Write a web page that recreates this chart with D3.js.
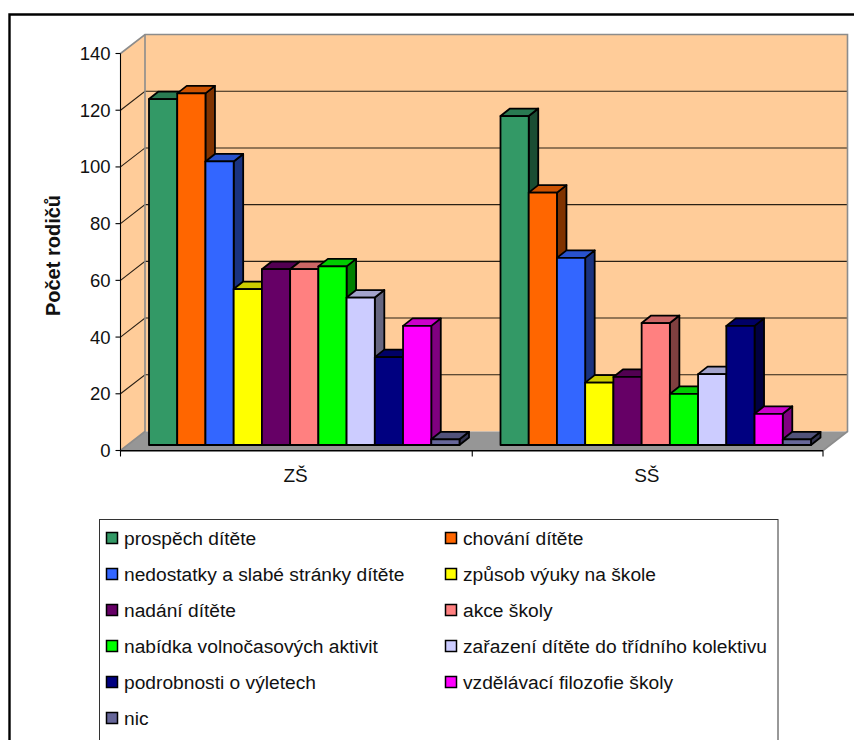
<!DOCTYPE html>
<html><head><meta charset="utf-8">
<script src="https://cdn.jsdelivr.net/npm/d3@7/dist/d3.min.js"></script>
<style>html,body{margin:0;padding:0;background:#fff}svg{display:block}text{font-family:"Liberation Sans",Arial,sans-serif;fill:#111}</style>
</head><body><svg id="c" width="854" height="740"></svg>
<script>
const categories = ["ZŠ", "SŠ"];
const seriesNames = ["prospěch dítěte","chování dítěte","nedostatky a slabé stránky dítěte","způsob výuky na škole","nadání dítěte","akce školy","nabídka volnočasových aktivit","zařazení dítěte do třídního kolektivu","podrobnosti o výletech","vzdělávací filozofie školy","nic"];
const seriesColors = ["#339966","#FF6600","#3366FF","#FFFF00","#660066","#FF8080","#00FF00","#CCCCFF","#000080","#FF00FF","#666699"];
const valuesZS = [122,124,100,55,62,62,63,52,31,42,2];
const valuesSS = [116,89,66,22,24,43,18,25,42,11,2];
const yTicks = [0,20,40,60,80,100,120,140];
const yTitle = "Počet rodičů";

const svg = d3.select("#c");
// front plane of the 3D box and its depth offset
const left = 120.5, right = 823, y0 = 450.5, y140 = 53.5, dx = 24.5, dy = -19;
const y = d3.scaleLinear().domain([0,140]).range([y0,y140]);
const x = d3.scaleBand().domain(categories).range([left,right]);
const poly = p => p.map(q=>q.join(",")).join(" ");

// outer frame
svg.append("path").attr("d","M9.5,740V14.5H854").attr("fill","none").attr("stroke","#000").attr("stroke-width",2.4);

// walls
const g = svg.append("g");
g.append("polygon").attr("points",poly([[left,y(0)],[left+dx,y(0)+dy],[left+dx,y(140)+dy],[left,y(140)]])).attr("fill","#FFCC99");
g.append("rect").attr("x",left+dx).attr("y",y(140)+dy).attr("width",right-left).attr("height",y(0)-y(140)).attr("fill","#FFCC99");
g.append("polygon").attr("points",poly([[left,y(0)],[right,y(0)],[right+dx,y(0)+dy],[left+dx,y(0)+dy]])).attr("fill","#969696");
// gridlines
const grid = yTicks.filter(t=>t>0&&t<140);
g.selectAll("path.grid").data(grid).join("path").attr("class","grid")
 .attr("d",t=>`M${left},${y(t)}L${left+dx},${y(t)+dy}H${right+dx}`)
 .attr("fill","none").attr("stroke","#2a2015").attr("stroke-width",1.1);
// wall edges
g.append("path").attr("d",`M${left},${y(140)}L${left+dx},${y(140)+dy}H${right+dx}V${y(0)+dy}L${right},${y(0)}`).attr("fill","none").attr("stroke","#8c8c8c").attr("stroke-width",1.6);
g.append("path").attr("d",`M${left+dx},${y(140)+dy}V${y(0)+dy}L${left},${y(0)}`).attr("fill","none").attr("stroke","#8c8c8c").attr("stroke-width",1.6);

// bars
const barLeft = {"ZŠ":149, "SŠ":500.5}, barSpan = 310.5, bDx = 9.5, bDy = -7.5, bBase = 445;
const shade = (c,k)=>{const r=d3.rgb(c);return d3.rgb(r.r*k,r.g*k,r.b*k).formatHex();};
[valuesZS,valuesSS].forEach((vals,ci)=>{
  const cat = categories[ci];
  const gx = d3.scaleBand().domain(d3.range(vals.length)).range([barLeft[cat],barLeft[cat]+barSpan]);
  const b = svg.append("g").attr("stroke","#000").attr("stroke-width",1.8).attr("stroke-linejoin","round");
  vals.forEach((v,i)=>{
    const x0=gx(i), x1=x0+gx.bandwidth(), top=bBase-(y(0)-y(v));
    const col=seriesColors[i];
    b.append("polygon").attr("points",poly([[x1,top],[x1+bDx,top+bDy],[x1+bDx,bBase+bDy],[x1,bBase]])).attr("fill",shade(col,0.5));
    b.append("polygon").attr("points",poly([[x0,top],[x0+bDx,top+bDy],[x1+bDx,top+bDy],[x1,top]])).attr("fill",shade(col,0.8));
    b.append("rect").attr("x",x0).attr("y",top).attr("width",x1-x0).attr("height",bBase-top).attr("fill",col);
  });
});

// axes
const ax = svg.append("g").attr("stroke","#000").attr("stroke-width",1.1);
ax.append("line").attr("x1",left).attr("x2",left).attr("y1",y(140)).attr("y2",y(0));
ax.append("line").attr("x1",left).attr("x2",right).attr("y1",y(0)+.3).attr("y2",y(0)+.3).attr("stroke-width",1.4);
ax.selectAll("line.t").data(yTicks).join("line").attr("class","t").attr("x1",left-5).attr("x2",left).attr("y1",d=>y(d)).attr("y2",d=>y(d));
ax.selectAll("line.c").data([left,(left+right)/2+.5,right]).join("line").attr("class","c").attr("x1",d=>d).attr("x2",d=>d).attr("y1",y(0)).attr("y2",y(0)+6);
svg.selectAll("text.yt").data(yTicks).join("text").attr("class","yt").attr("x",left-10).attr("y",d=>y(d)+6.5).attr("text-anchor","end").attr("font-size",18.5).text(d=>d);
svg.selectAll("text.xt").data(categories).join("text").attr("class","xt").attr("x",d=>x(d)+x.bandwidth()/2-.5).attr("y",482).attr("text-anchor","middle").attr("font-size",19).text(d=>d);
svg.append("text").attr("transform","translate(59.5,255.5) rotate(-90)").attr("text-anchor","middle").attr("font-size",20).attr("font-weight","bold").text(yTitle);

// legend
svg.append("rect").attr("x",99.5).attr("y",519.5).attr("width",678.5).attr("height",225).attr("fill","#fff").attr("stroke","#333").attr("stroke-width",1);
const colX=[106,445], rowY=d3.range(6).map(i=>538+i*36);
seriesNames.forEach((n,i)=>{
  const cx=colX[i%2], cy=rowY[Math.floor(i/2)];
  svg.append("rect").attr("x",cx+.5).attr("y",cy-5.5).attr("width",11).attr("height",11).attr("fill",seriesColors[i]).attr("stroke","#000").attr("stroke-width",1.5);
  svg.append("text").attr("x",cx+18).attr("y",cy+6.5).attr("font-size",19.2).text(n);
});
</script></body></html>
